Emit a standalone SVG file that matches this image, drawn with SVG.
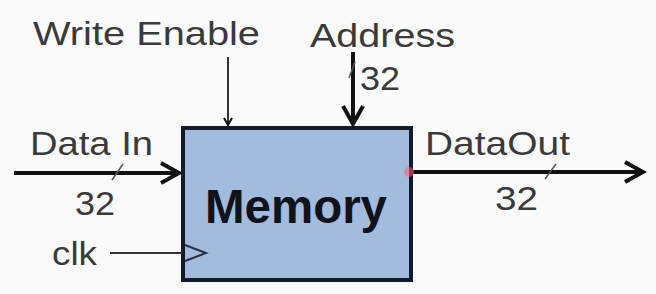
<svg xmlns="http://www.w3.org/2000/svg" width="656" height="294" viewBox="0 0 656 294">
  <defs>
    <marker id="open-arrow" markerWidth="10" markerHeight="10" refX="8" refY="5" orient="auto" markerUnits="userSpaceOnUse" viewBox="0 0 10 10">
      <path d="M1,1 L8,5 L1,9" fill="none" stroke="#111" stroke-width="2"/>
    </marker>
    <marker id="open-arrow-big" markerWidth="26" markerHeight="26" refX="22" refY="13" orient="auto" markerUnits="userSpaceOnUse" viewBox="0 0 26 26">
      <path d="M4,3 L22,13 L4,23" fill="none" stroke="#111" stroke-width="4"/>
    </marker>
  </defs>
  <style>
    .lbl { font-family: "Liberation Sans", Arial, sans-serif; font-size: 34px; fill: #3a3a3a; }
    .title { font-family: "Liberation Sans", Arial, sans-serif; font-size: 48px; font-weight: bold; fill: #10131c; }
    .bus { stroke: #111; stroke-width: 4; fill: none; }
    .wire { stroke: #333; stroke-width: 2; fill: none; }
    .tick { stroke: #555; stroke-width: 1.5; }
  </style>
  <rect width="656" height="294" fill="#fafafa"/>

  <g id="memory">
    <rect x="183" y="128" width="228" height="152" fill="#a3bbdc" stroke="#141a2e" stroke-width="4"/>
    <text class="title" x="205" y="223" textLength="182" lengthAdjust="spacingAndGlyphs">Memory</text>
    <path d="M185,245 L206,253 L185,261" fill="none" stroke="#2a2f40" stroke-width="2"/>
  </g>

  <g id="write-enable">
    <text class="lbl" x="33" y="45" textLength="227" lengthAdjust="spacingAndGlyphs">Write Enable</text>
  </g>
  <g id="address">
    <text class="lbl" x="310" y="47" textLength="145" lengthAdjust="spacingAndGlyphs">Address</text>
    <text class="lbl" x="360" y="90" textLength="40" lengthAdjust="spacingAndGlyphs">32</text>
  </g>
  <g id="data-in">
    <text class="lbl" x="30" y="155" textLength="123" lengthAdjust="spacingAndGlyphs">Data In</text>
    <text class="lbl" x="75" y="215" textLength="40" lengthAdjust="spacingAndGlyphs">32</text>
  </g>
  <g id="clk">
    <text class="lbl" x="52" y="265" textLength="45" lengthAdjust="spacingAndGlyphs">clk</text>
  </g>
  <g id="data-out">
    <text class="lbl" x="425" y="155" textLength="145" lengthAdjust="spacingAndGlyphs">DataOut</text>
    <text class="lbl" x="495" y="210" textLength="43" lengthAdjust="spacingAndGlyphs">32</text>
  </g>

  <g id="connectors">
    <line class="wire" x1="228" y1="57" x2="228" y2="125" marker-end="url(#open-arrow)"/>
    <line class="bus" x1="353" y1="52" x2="353" y2="124" marker-end="url(#open-arrow-big)"/>
    <line class="tick" x1="349" y1="78" x2="355" y2="62"/>
    <line class="bus" x1="14" y1="173" x2="179" y2="173" marker-end="url(#open-arrow-big)"/>
    <line class="tick" x1="112" y1="180" x2="123" y2="164"/>
    <line class="wire" x1="110" y1="253" x2="183" y2="253"/>
    <line class="bus" x1="413" y1="172" x2="643" y2="172" marker-end="url(#open-arrow-big)"/>
    <line class="tick" x1="545" y1="179" x2="556" y2="164"/>
    <circle cx="409" cy="172" r="5" fill="#ff6070" opacity="0.55"/>
  </g>
</svg>
